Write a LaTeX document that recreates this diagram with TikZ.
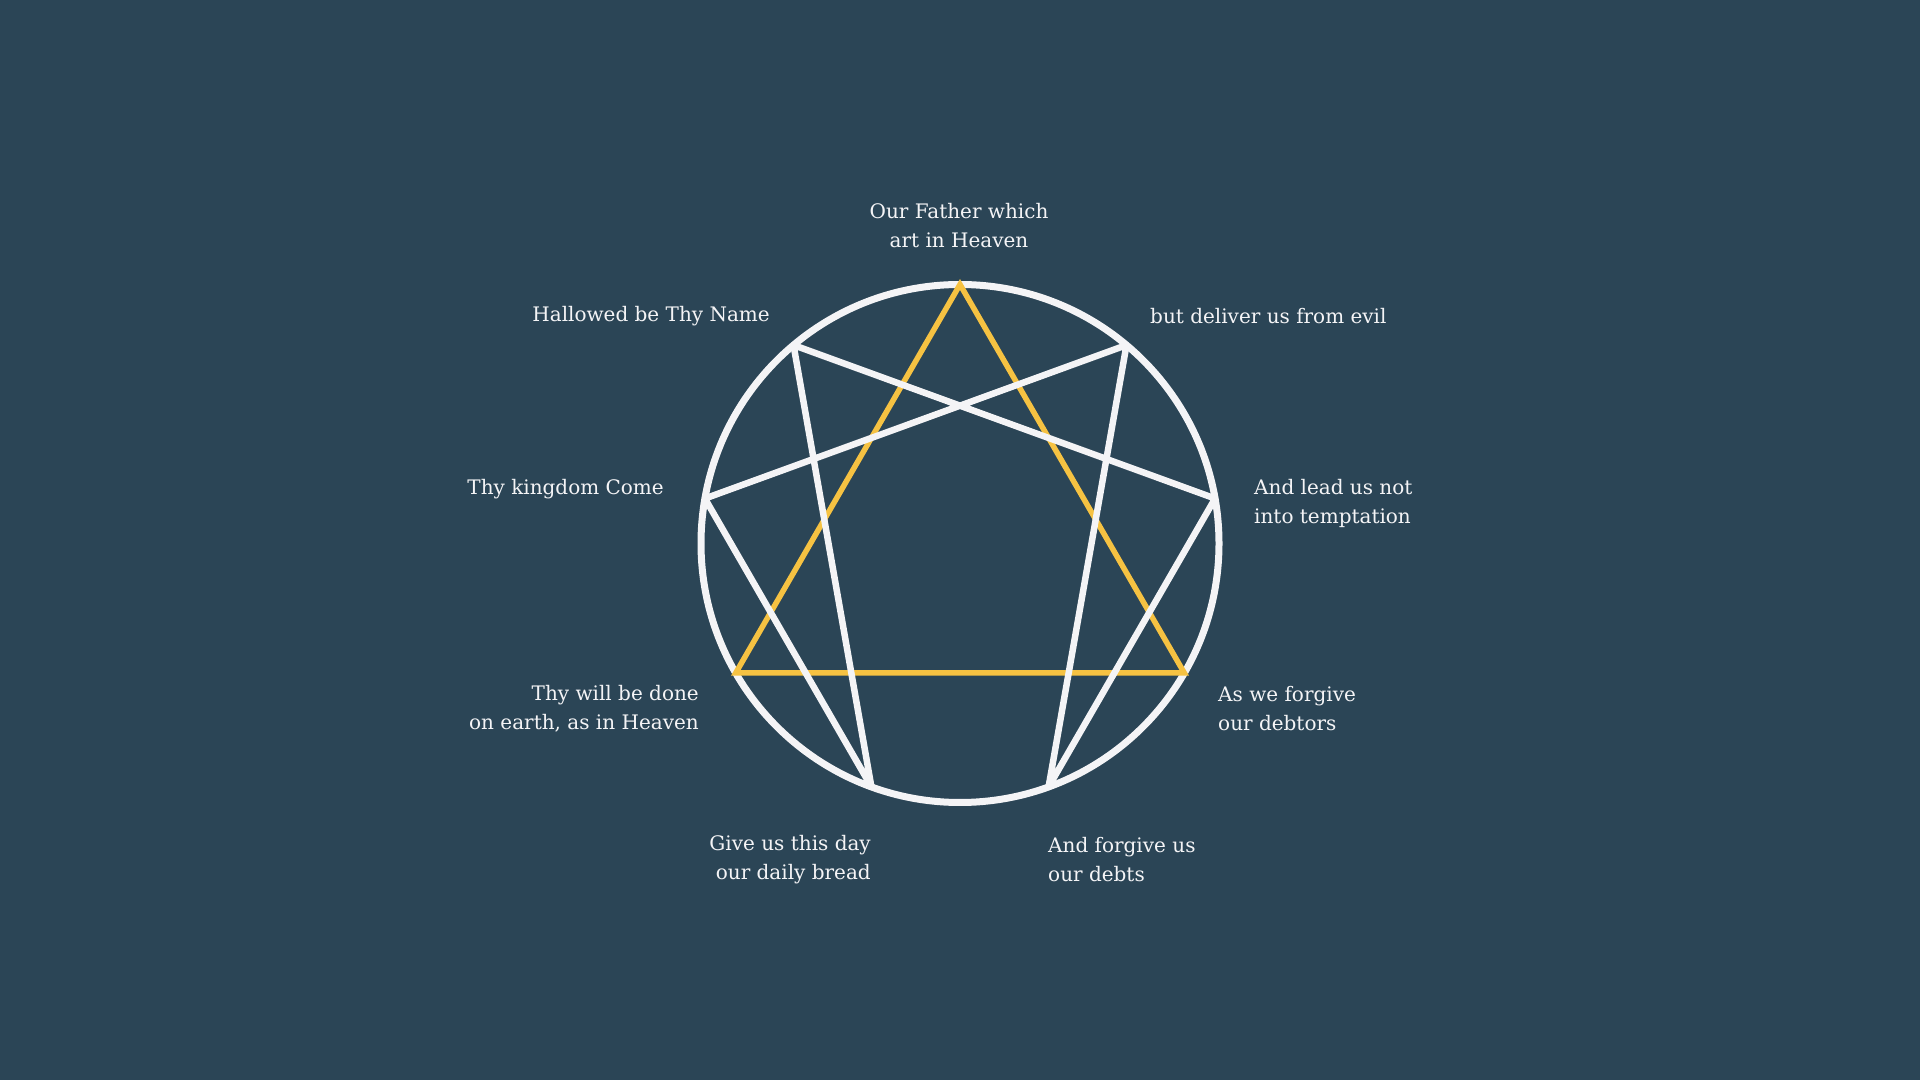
\documentclass[tikz,border=0pt]{standalone}
\usepackage{fontspec}
\setmainfont{DejaVu Serif}
\usetikzlibrary{calc}
\definecolor{bg}{RGB}{43,69,86}
\definecolor{wline}{RGB}{244,244,246}
\definecolor{yline}{RGB}{246,194,66}
\tikzset{
  lbl/.style={text=wline, inner sep=0pt, font=\fontsize{20}{29}\selectfont},
  wl/.style={draw=wline, line width=6.5pt, line cap=round, line join=round},
  yl/.style={draw=yline, line width=5.5pt, line join=miter},
}
\begin{document}
\begin{tikzpicture}[x=1pt,y=1pt]
\fill[bg] (0,0) rectangle (1920,1080);
\useasboundingbox (0,0) rectangle (1920,1080);
\coordinate (c) at (960,536.5);
\foreach \i in {0,...,8} {
  \coordinate (p\i) at ($(c)+({90-40*\i}:259)$);
}
\draw[wl, line width=7pt] (c) circle (259);
\draw[yl] (p0) -- (p3) -- (p6) -- cycle;
\draw[wl] (p1) -- (p4) -- (p2) -- (p8) -- (p5) -- (p7) -- cycle;
\node[lbl, align=center] (t0) at (959,854) {Our Father which\\art in Heaven};
\node[lbl, anchor=east] (t8) at (770,764) {Hallowed be Thy Name};
\node[lbl, anchor=west] (t1) at (1150,764) {but deliver us from evil};
\node[lbl, anchor=east] (t7) at (664,591) {Thy kingdom Come};
\node[lbl, anchor=west, align=left] (t2) at (1254,576.5) {And lead us not\\into temptation};
\node[lbl, anchor=east, align=right] (t6) at (699,371) {Thy will be done\\on earth, as in Heaven};
\node[lbl, anchor=west, align=left] (t3) at (1218,371) {As we forgive\\our debtors};
\node[lbl, anchor=east, align=right] (t5) at (871,220.5) {Give us this day\\our daily bread};
\node[lbl, anchor=west, align=left] (t4) at (1048,220.5) {And forgive us\\our debts};
\end{tikzpicture}
\end{document}
